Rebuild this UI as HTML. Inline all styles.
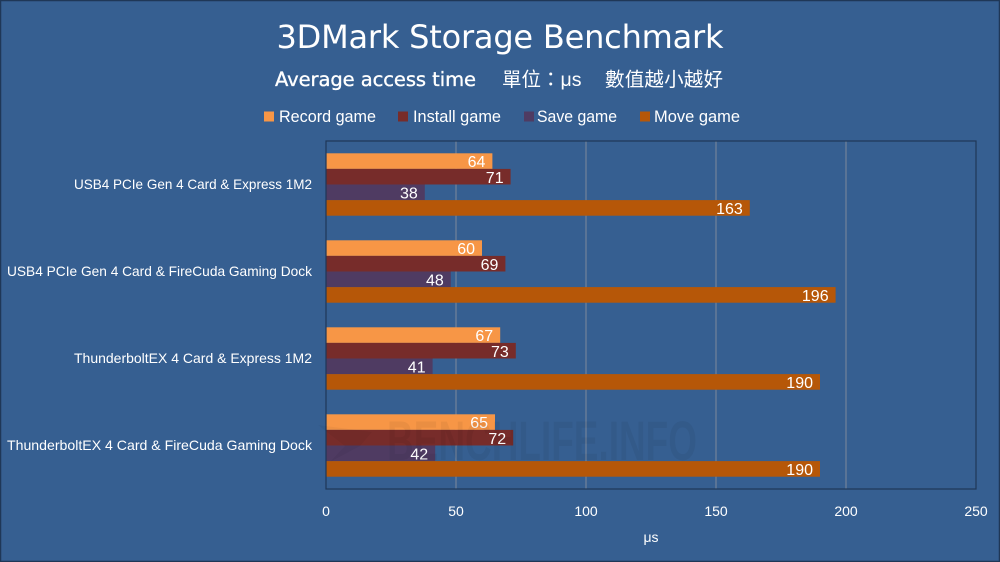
<!DOCTYPE html>
<html><head><meta charset="utf-8"><style>
html,body{margin:0;padding:0;background:#365F91;}
svg{display:block;}
</style></head><body>
<svg width="1000" height="562" viewBox="0 0 1000 562" xmlns="http://www.w3.org/2000/svg">
<rect x="0" y="0" width="1000" height="562" fill="#365F91"/>
<rect x="0.5" y="0.5" width="999" height="561" fill="none" stroke="#1f3757" stroke-width="1.5"/>

<!-- Title -->
<text x="500" y="48" text-anchor="middle" font-family="DejaVu Sans, sans-serif" font-size="32" fill="#ffffff" textLength="447">3DMark Storage Benchmark</text>
<text x="275" y="86" font-family="DejaVu Sans, sans-serif" font-size="19.5" fill="#ffffff" stroke="#ffffff" stroke-width="0.35" textLength="201">Average access time</text>
<text x="502" y="86" font-family="'Liberation Sans','Noto Sans CJK TC',sans-serif" font-size="19.5" fill="#ffffff">單位：μs</text>
<text x="605" y="86" font-family="'Liberation Sans','Noto Sans CJK TC',sans-serif" font-size="19.5" fill="#ffffff" textLength="118">數值越小越好</text>

<!-- Legend -->
<g font-family="'Liberation Sans',sans-serif" font-size="16.5" fill="#ffffff">
<rect x="264" y="111.5" width="10" height="10" fill="#F79646"/>
<text x="279" y="122" textLength="97" lengthAdjust="spacingAndGlyphs">Record game</text>
<rect x="398" y="111.5" width="10" height="10" fill="#772C2A"/>
<text x="413" y="122" textLength="88" lengthAdjust="spacingAndGlyphs">Install game</text>
<rect x="524" y="111.5" width="10" height="10" fill="#4F3B62"/>
<text x="537" y="122" textLength="80" lengthAdjust="spacingAndGlyphs">Save game</text>
<rect x="640" y="111.5" width="10" height="10" fill="#B65708"/>
<text x="654" y="122" textLength="86" lengthAdjust="spacingAndGlyphs">Move game</text>
</g>

<!-- Gridlines -->
<g stroke="#7f8a9a" stroke-width="1">
<line x1="456" y1="141" x2="456" y2="489"/>
<line x1="586" y1="141" x2="586" y2="489"/>
<line x1="716" y1="141" x2="716" y2="489"/>
<line x1="846" y1="141" x2="846" y2="489"/>
</g>

<!-- Bars -->
<g>
<rect x="326" y="153.3" width="166.4" height="15.6" fill="#F79646"/>
<rect x="326" y="168.9" width="184.6" height="15.6" fill="#772C2A"/>
<rect x="326" y="184.5" width="98.8" height="15.6" fill="#4F3B62"/>
<rect x="326" y="200.1" width="423.8" height="15.6" fill="#B65708"/>

<rect x="326" y="240.3" width="156" height="15.6" fill="#F79646"/>
<rect x="326" y="255.9" width="179.4" height="15.6" fill="#772C2A"/>
<rect x="326" y="271.5" width="124.8" height="15.6" fill="#4F3B62"/>
<rect x="326" y="287.1" width="509.6" height="15.6" fill="#B65708"/>

<rect x="326" y="327.3" width="174.2" height="15.6" fill="#F79646"/>
<rect x="326" y="342.9" width="189.8" height="15.6" fill="#772C2A"/>
<rect x="326" y="358.5" width="106.6" height="15.6" fill="#4F3B62"/>
<rect x="326" y="374.1" width="494" height="15.6" fill="#B65708"/>

<rect x="326" y="414.3" width="169" height="15.6" fill="#F79646"/>
<rect x="326" y="429.9" width="187.2" height="15.6" fill="#772C2A"/>
<rect x="326" y="445.5" width="109.2" height="15.6" fill="#4F3B62"/>
<rect x="326" y="461.1" width="494" height="15.6" fill="#B65708"/>
</g>

<!-- Data labels -->
<g font-family="'Liberation Sans',sans-serif" font-size="16" fill="#ffffff" text-anchor="end">
<text x="485.4" y="167.2">64</text>
<text x="503.6" y="182.8">71</text>
<text x="417.8" y="198.4">38</text>
<text x="742.8" y="214">163</text>

<text x="475" y="254.2">60</text>
<text x="498.4" y="269.8">69</text>
<text x="443.8" y="285.4">48</text>
<text x="828.6" y="301">196</text>

<text x="493.2" y="341.2">67</text>
<text x="508.8" y="356.8">73</text>
<text x="425.6" y="372.4">41</text>
<text x="813" y="388">190</text>

<text x="488" y="428.2">65</text>
<text x="506.2" y="443.8">72</text>
<text x="428.2" y="459.4">42</text>
<text x="813" y="475">190</text>
</g>

<!-- Plot border -->
<rect x="326" y="141" width="650" height="348" fill="none" stroke="#1f3757" stroke-width="1.2"/>

<!-- Watermark -->
<text x="387" y="460" font-family="'Liberation Sans',sans-serif" font-weight="bold" font-size="56" fill="#000000" fill-opacity="0.05" textLength="310" lengthAdjust="spacingAndGlyphs">BENCHLIFE.INFO</text>
<path d="M318 425 L372 432 L360 446 L330 462 L345 446 Z" fill="#000000" fill-opacity="0.04"/>

<!-- Category labels -->
<g font-family="'Liberation Sans',sans-serif" font-size="14" fill="#ffffff" text-anchor="end">
<text x="312" y="189" textLength="238" lengthAdjust="spacingAndGlyphs">USB4 PCIe Gen 4 Card &amp; Express 1M2</text>
<text x="312" y="276" textLength="305" lengthAdjust="spacingAndGlyphs">USB4 PCIe Gen 4 Card &amp; FireCuda Gaming Dock</text>
<text x="312" y="363" textLength="238" lengthAdjust="spacingAndGlyphs">ThunderboltEX 4 Card &amp; Express 1M2</text>
<text x="312" y="450" textLength="305" lengthAdjust="spacingAndGlyphs">ThunderboltEX 4 Card &amp; FireCuda Gaming Dock</text>
</g>

<!-- X axis ticks -->
<g font-family="'Liberation Sans',sans-serif" font-size="14" fill="#ffffff" text-anchor="middle">
<text x="326" y="516">0</text>
<text x="456" y="516">50</text>
<text x="586" y="516">100</text>
<text x="716" y="516">150</text>
<text x="846" y="516">200</text>
<text x="976" y="516">250</text>
<text x="651" y="542">μs</text>
</g>
</svg>
</body></html>
